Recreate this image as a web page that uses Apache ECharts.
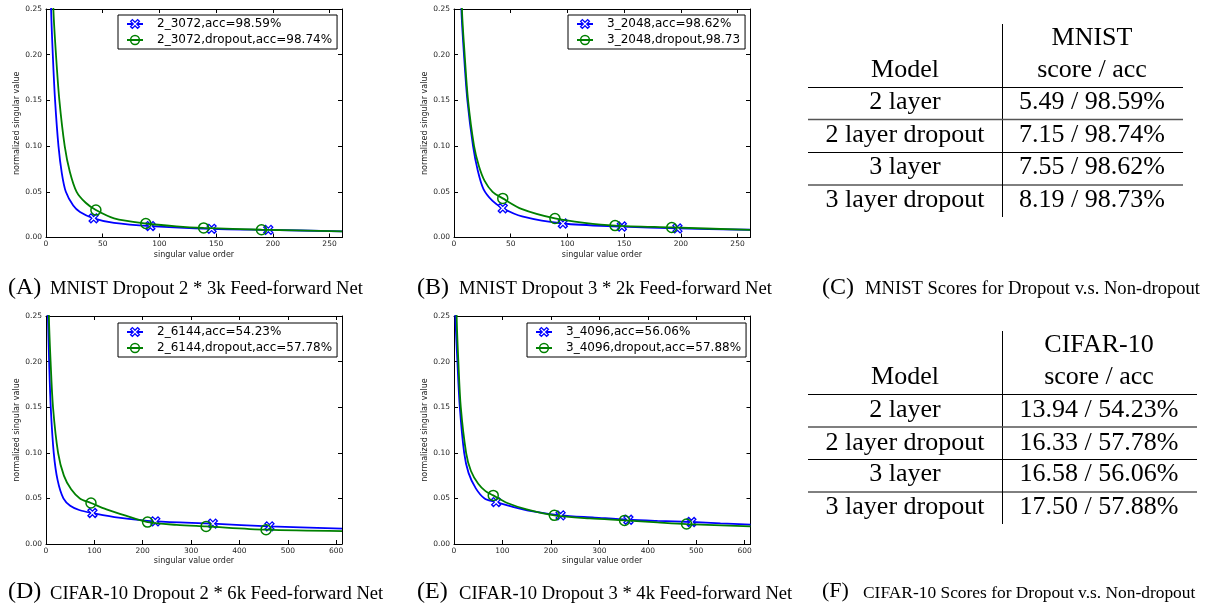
<!DOCTYPE html>
<html><head><meta charset="utf-8">
<script src="https://cdn.jsdelivr.net/npm/echarts@6/dist/echarts.min.js"></script>
<style>html,body{margin:0;padding:0;background:#fff}#c{width:1222px;height:607px}</style>
</head><body><div id="c"></div>
<script>
// ---------- Panel A: MNIST 2 * 3k ----------
const aNames = ['2_3072,acc=98.59%', '2_3072,dropout,acc=98.74%'];
const aBlueX = [2, 4.5, 6, 8, 11, 14, 17.5, 24, 30, 42, 60, 92, 146, 196, 261];
const aBlueY = [0.40, 0.25, 0.20, 0.15, 0.10, 0.07, 0.05, 0.035, 0.028, 0.021, 0.016, 0.0125, 0.0095, 0.0083, 0.0068];
const aBlueMarks = [42, 92, 146, 196];
const aGreenX = [3, 6.5, 8.8, 11.8, 16.5, 21, 27, 35, 44, 60, 88, 115, 139, 190, 261];
const aGreenY = [0.40, 0.25, 0.20, 0.15, 0.10, 0.072, 0.05, 0.038, 0.030, 0.021, 0.0153, 0.0122, 0.0105, 0.0085, 0.0068];
const aGreenMarks = [44, 88, 139, 190];

// ---------- Panel B: MNIST 3 * 2k ----------
const bNames = ['3_2048,acc=98.62%', '3_2048,dropout,98.73'];
const bBlueX = [3, 6.5, 8.8, 11.8, 16.8, 21, 26, 34, 43, 60, 96, 148, 197, 261];
const bBlueY = [0.42, 0.25, 0.20, 0.15, 0.10, 0.073, 0.053, 0.04, 0.032, 0.023, 0.0153, 0.012, 0.0099, 0.0085];
const bBlueMarks = [43, 96, 148, 197];
const bGreenX = [3, 7, 9.4, 12.4, 17.7, 22, 27, 34, 43, 60, 89, 115, 142, 192, 261];
const bGreenY = [0.45, 0.25, 0.20, 0.15, 0.10, 0.078, 0.062, 0.05, 0.0428, 0.031, 0.0208, 0.016, 0.013, 0.011, 0.0083];
const bGreenMarks = [43, 89, 142, 192];

// ---------- Panel D: CIFAR-10 2 * 6k ----------
const dNames = ['2_6144,acc=54.23%', '2_6144,dropout,acc=57.78%'];
const dBlueX = [1, 4, 6.5, 9.8, 16, 24, 36, 50, 70, 96, 150, 226, 345, 462, 612];
const dBlueY = [0.35, 0.25, 0.20, 0.15, 0.10, 0.07, 0.05, 0.042, 0.037, 0.034, 0.029, 0.0248, 0.0223, 0.0193, 0.0168];
const dBlueMarks = [96, 226, 345, 462];
const dGreenX = [1, 6, 9.5, 14.5, 25, 37, 52, 70, 93, 125, 165, 210, 270, 331, 455, 612];
const dGreenY = [0.45, 0.25, 0.20, 0.15, 0.10, 0.075, 0.06, 0.05, 0.045, 0.038, 0.031, 0.024, 0.021, 0.0193, 0.0157, 0.0142];
const dGreenMarks = [93, 210, 331, 455];

// ---------- Panel E: CIFAR-10 3 * 4k ----------
const eNames = ['3_4096,acc=56.06%', '3_4096,dropout,acc=57.88%'];
const eBlueX = [1, 3, 7, 12, 21, 30, 45, 63, 87, 120, 160, 220, 290, 360, 420, 490, 550, 612];
const eBlueY = [0.35, 0.25, 0.20, 0.15, 0.10, 0.078, 0.061, 0.05, 0.046, 0.041, 0.036, 0.0314, 0.029, 0.0266, 0.0253, 0.0241, 0.0226, 0.0212];
const eBlueMarks = [87, 220, 360, 490];
const eGreenX = [1, 5.5, 9, 14, 25, 35, 50, 65, 81, 110, 150, 207, 280, 352, 420, 480, 612];
const eGreenY = [0.45, 0.25, 0.20, 0.15, 0.10, 0.08, 0.066, 0.058, 0.0533, 0.045, 0.038, 0.0314, 0.028, 0.0259, 0.0237, 0.0219, 0.0193];
const eGreenMarks = [81, 207, 352, 480];

// ---------- Axes ----------
const xMaxMnist = 261, xIntMnist = 50;
const xMaxCifar = 612, xIntCifar = 100;
const yMax = 0.25, yInt = 0.05;
const xAxisName = 'singular value order';
const yAxisName = 'normalized singular value';

// ---------- Tables ----------
const tableModels = ['2 layer', '2 layer dropout', '3 layer', '3 layer dropout'];
const mnistScore = [5.49, 7.15, 7.55, 8.19];
const mnistAcc = [98.59, 98.74, 98.62, 98.73];
const cifarScore = [13.94, 16.33, 16.58, 17.50];
const cifarAcc = [54.23, 57.78, 56.06, 57.88];
const tableHeaders = ['MNIST', 'CIFAR-10'];

// ---------- Captions ----------
const captionLetters = ['(A)', '(B)', '(C)', '(D)', '(E)', '(F)'];
const captionTexts = [
  'MNIST Dropout 2 * 3k Feed-forward Net',
  'MNIST Dropout 3 * 2k Feed-forward Net',
  'MNIST Scores for Dropout v.s. Non-dropout',
  'CIFAR-10 Dropout 2 * 6k Feed-forward Net',
  'CIFAR-10 Dropout 3 * 4k Feed-forward Net',
  'CIFAR-10 Scores for Dropout v.s. Non-dropout'
];

// ================= build =================
const BLUE = '#0000ff', GREEN = '#008000';
const XPATH = 'path://M0,2L2,0L5,3L8,0L10,2L7,5L10,8L8,10L5,7L2,10L0,8L3,5Z';
const SANS = 'DejaVu Sans';
const SERIF = 'Liberation Serif';

const panels = [
  {grid: {left: 46, top: 9, width: 296, height: 228.5}, xmax: xMaxMnist, xint: xIntMnist, names: aNames,
   blue: [aBlueX, aBlueY, aBlueMarks], green: [aGreenX, aGreenY, aGreenMarks], legend: {left: 118, top: 15}},
  {grid: {left: 454, top: 9, width: 296, height: 228.5}, xmax: xMaxMnist, xint: xIntMnist, names: bNames,
   blue: [bBlueX, bBlueY, bBlueMarks], green: [bGreenX, bGreenY, bGreenMarks], legend: {left: 568, top: 15}},
  {grid: {left: 46, top: 316, width: 296, height: 228}, xmax: xMaxCifar, xint: xIntCifar, names: dNames,
   blue: [dBlueX, dBlueY, dBlueMarks], green: [dGreenX, dGreenY, dGreenMarks], legend: {left: 118, top: 323}},
  {grid: {left: 454, top: 316, width: 296.5, height: 228}, xmax: xMaxCifar, xint: xIntCifar, names: eNames,
   blue: [eBlueX, eBlueY, eBlueMarks], green: [eGreenX, eGreenY, eGreenMarks], legend: {left: 527, top: 323}}
];

const grids = [], xAxes = [], yAxes = [], series = [], legends = [];
const tickStyle = {inside: true, length: 4, lineStyle: {color: '#000', width: 1}};
const lineAx = {show: true, onZero: false, lineStyle: {color: '#000', width: 1}};
const blueItem = {color: '#ffffff', borderColor: BLUE, borderWidth: 1.3};
const greenItem = {color: 'rgba(255,255,255,0)', borderColor: GREEN, borderWidth: 1.5};

function mkData(xs, ys, marks) {
  return xs.map((x, i) => {
    const item = {value: [x, ys[i]]};
    if (marks.indexOf(x) < 0) item.symbol = 'none';
    return item;
  });
}

panels.forEach((p, i) => {
  grids.push(Object.assign({containLabel: false}, p.grid));
  const xint = p.xint;
  xAxes.push({type: 'value', gridIndex: i, position: 'bottom', min: 0, max: p.xmax, interval: xint,
    axisLine: lineAx, axisTick: tickStyle, splitLine: {show: false},
    axisLabel: {fontFamily: SANS, fontSize: 7.5, color: '#222', margin: 3,
      formatter: v => (Math.abs(v / xint - Math.round(v / xint)) < 1e-6 ? String(v) : '')},
    name: xAxisName, nameLocation: 'middle', nameGap: 13,
    nameTextStyle: {fontFamily: SANS, fontSize: 8, color: '#222'}});
  xAxes.push({type: 'value', gridIndex: i, position: 'top', min: 0, max: p.xmax, interval: xint,
    axisLine: lineAx, axisTick: tickStyle, splitLine: {show: false}, axisLabel: {show: false}});
  yAxes.push({type: 'value', gridIndex: i, position: 'left', min: 0, max: yMax, interval: yInt,
    axisLine: lineAx, axisTick: tickStyle, splitLine: {show: false},
    axisLabel: {fontFamily: SANS, fontSize: 7.5, color: '#222', margin: 4, formatter: v => v.toFixed(2)},
    name: yAxisName, nameLocation: 'middle', nameGap: 20,
    nameTextStyle: {fontFamily: SANS, fontSize: 8, color: '#222'}});
  yAxes.push({type: 'value', gridIndex: i, position: 'right', min: 0, max: yMax, interval: yInt,
    axisLine: lineAx, axisTick: tickStyle, splitLine: {show: false}, axisLabel: {show: false}});

  const common = {type: 'line', xAxisIndex: 2 * i, yAxisIndex: 2 * i, smooth: 0.3,
    clip: true, showSymbol: true, animation: false, emphasis: {disabled: true}};
  series.push(Object.assign({}, common, {name: p.names[0], color: BLUE,
    symbol: XPATH, symbolSize: 9, lineStyle: {color: BLUE, width: 1.8},
    itemStyle: blueItem,
    data: mkData(p.blue[0], p.blue[1], p.blue[2]), z: 3}));
  series.push(Object.assign({}, common, {name: p.names[1], color: GREEN,
    symbol: 'circle', symbolSize: 10, lineStyle: {color: GREEN, width: 1.8},
    itemStyle: greenItem,
    data: mkData(p.green[0], p.green[1], p.green[2]), z: 4}));

  legends.push({show: true,
    data: [{name: p.names[0], itemStyle: blueItem}, {name: p.names[1], itemStyle: greenItem}],
    orient: 'vertical', left: p.legend.left, top: p.legend.top,
    padding: [3, 5, 3, 8], itemGap: 4, itemWidth: 16, itemHeight: 11,
    borderColor: '#000', borderWidth: 1, backgroundColor: '#fff', borderRadius: 0,
    selectedMode: false,
    textStyle: {fontFamily: SANS, fontSize: 12, color: '#000', padding: [0, 0, 0, 9]}});
});

// graphics: tables + captions
const graphic = [];
function txt(x, y, text, font, align) {
  graphic.push({type: 'text', x: x, y: y, silent: true,
    style: {text: text, font: font, fill: '#000', align: align || 'center', verticalAlign: 'middle'}});
}
function line(x1, y1, x2, y2, color, w) {
  graphic.push({type: 'line', silent: true, shape: {x1: x1, y1: y1, x2: x2, y2: y2},
    style: {stroke: color || '#000', lineWidth: w || 1}});
}
const TF = '26px "' + SERIF + '"';
function table(header, scores, accs, valX, rightX, vTop, vBottom, hLines, rowsY, headY1, headY2) {
  line(1002.5, vTop, 1002.5, vBottom);
  hLines.forEach((hy, k) => line(808, hy, rightX, hy, k === 1 ? '#555' : '#000', k === 1 ? 1.5 : 1));
  txt(valX, headY1, header, TF);
  txt(valX, headY2, 'score / acc', TF);
  txt(905, headY2, 'Model', TF);
  tableModels.forEach((m, k) => {
    txt(905, rowsY[k], m, TF);
    txt(valX, rowsY[k], scores[k].toFixed(2) + ' / ' + accs[k].toFixed(2) + '%', TF);
  });
}
table(tableHeaders[0], mnistScore, mnistAcc, 1092, 1183, 24, 217, [87.5, 119.5, 152.5, 185], [102, 135, 167.5, 200], 38, 70);
table(tableHeaders[1], cifarScore, cifarAcc, 1099, 1197, 331, 524, [394.5, 427, 459.5, 492], [410, 443, 474.5, 507], 345, 377.5);

// [letter x, text x, baseline y, letter size, text size]
const capPos = [[8, 50, 295.5, 24, 18.6], [417, 459, 295.5, 24, 18.6], [822, 865, 295.5, 24, 18.6],
                [8, 50, 600, 24, 18.6], [417, 459, 600, 24, 18.6], [822, 863, 599, 22, 17.4]];
capPos.forEach((c, k) => {
  txt(c[0], c[2] - c[3] / 3, captionLetters[k], c[3] + 'px "' + SERIF + '"', 'left');
  txt(c[1], c[2] - c[4] / 3, captionTexts[k], c[4] + 'px "' + SERIF + '"', 'left');
});

const chart = echarts.init(document.getElementById('c'), null, {renderer: 'canvas'});
chart.setOption({
  animation: false,
  backgroundColor: '#fff',
  grid: grids, xAxis: xAxes, yAxis: yAxes, series: series, legend: legends, graphic: graphic,
  tooltip: {show: false}
});
</script></body></html>
